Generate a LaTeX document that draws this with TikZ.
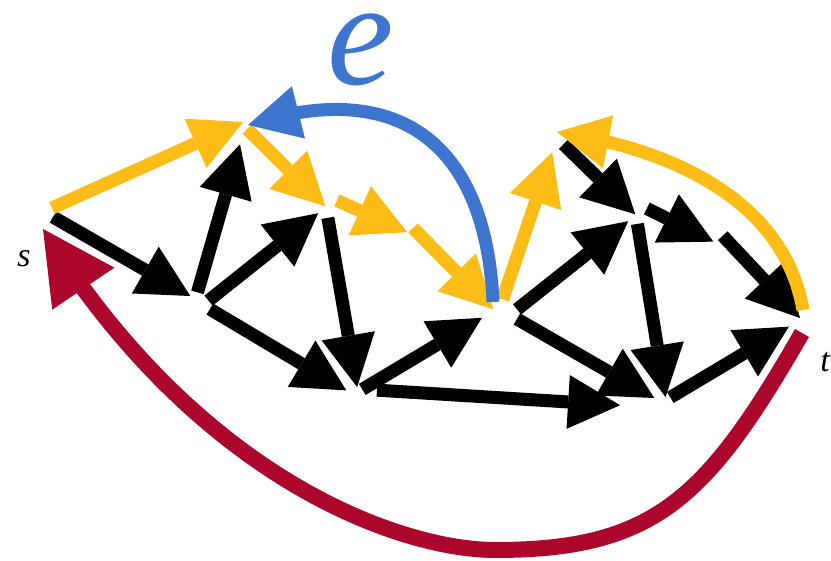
\documentclass[tikz,border=0pt]{standalone}
\usepackage{fontspec}
\setmainfont{Liberation Serif}
\usetikzlibrary{arrows.meta,bending,calc}
\definecolor{cyel}{RGB}{254,188,23}
\definecolor{cblu}{RGB}{62,117,207}
\definecolor{cred}{RGB}{172,6,45}
\tikzset{
  edgebase/.style={line width=13pt, -{Triangle[length=52pt,width=54pt,line width=0pt]}},
  blk/.style={edgebase, draw=black},
  ylw/.style={edgebase, draw=cyel},
  blu/.style={edgebase, draw=cblu},
  rd/.style={line width=16pt, draw=cred, -{Triangle[length=72pt,width=75pt,line width=0pt]}},
  lbl/.style={inner sep=0pt, font=\itshape\fontsize{34}{34}\selectfont},
}
\begin{document}
\begin{tikzpicture}[x=1pt,y=-1pt]
\useasboundingbox (0,0) rectangle (831,561);
% vertices
\coordinate (s) at (50,213);
\coordinate (A) at (245,127);
\coordinate (B) at (199,301);
\coordinate (C) at (326,207);
\coordinate (X) at (411,230);
\coordinate (D) at (358,392);
\coordinate (E) at (500,307);
\coordinate (F) at (557,138);
\coordinate (G) at (636,215);
\coordinate (Y) at (719,239);
\coordinate (I) at (666,400);
\coordinate (t) at (800,320);
\coordinate (rbot) at (495,550);
% labels
\node[lbl] (slab) at (24,259) {s};
\node[lbl] (tlab) at (825,362) {t};
\node[inner sep=0pt, text=cblu, font=\itshape\fontsize{150}{150}\selectfont] (elab) at (361,50) {e};
% black edges
\draw[blk, shorten >=10pt] ([shift={(3,4)}]s) -- (B);
\draw[blk, shorten <=9pt, shorten >=18pt] ([shift={(-4,0)}]B) -- (A);
\draw[blk, shorten <=7pt, shorten >=10pt] ([shift={(4,4)}]B) -- (C);
\draw[blk, shorten <=8pt, shorten >=9pt] ([shift={(4,4)}]B) -- ([shift={(-4,3)}]D);
\draw[blk, shorten <=11pt, shorten >=5pt] (C) -- (D);
\draw[blk, shorten <=5pt, shorten >=21pt] (D) -- (E);
\draw[blk, shorten <=19pt, shorten >=46pt] ([shift={(0,-3)}]D) -- ([shift={(0,8)}]I);
\draw[blk, shorten <=9pt, shorten >=10pt] ([shift={(10,8)}]E) -- (G);
\draw[blk, shorten <=8pt, shorten >=10pt] ([shift={(10,8)}]E) -- ([shift={(-3,3)}]I);
\draw[blk, shorten <=9pt, shorten >=1pt] (F) -- (G);
\draw[blk, shorten <=1pt, shorten >=3pt] ([shift={(10,-7)}]G) -- ([shift={(-3,4)}]Y);
\draw[blk, shorten <=1pt] ([shift={(3,-4)}]Y) -- ([shift={(0,-2)}]t);
\draw[blk, shorten <=9pt, shorten >=3pt] (G) -- (I);
\draw[blk, shorten <=5pt, shorten >=13pt] (I) -- (t);
% yellow edges
\draw[ylw] ([shift={(2,-5)}]s) -- ([shift={(-2,-5)}]A);
\draw[ylw, shorten <=3pt, shorten >=1pt] (A) -- (C);
\draw[ylw, shorten <=1pt, shorten >=2pt] ([shift={(10,-7)}]C) -- ([shift={(-2,3)}]X);
\draw[ylw, shorten >=1pt] ([shift={(2,-2)}]X) -- ([shift={(-6,3)}]E);
\draw[ylw, shorten <=8pt, shorten >=15pt] (E) -- (F);
\draw[ylw] ([shift={(3,-10)}]t) .. controls (785,205) and (680,150) .. ([shift={(0,-6)}]F);
% blue edge
\draw[blu] ([shift={(-7,-5)}]E) .. controls (486,145) and (400,76) .. ([shift={(3,-2)}]A);
% red edge
\draw[rd] ([shift={(2,13)}]t) .. controls (707,498) and (655,550) .. (rbot)
  .. controls (405,550) and (202,484) .. ([shift={(-7,16)}]s);
\end{tikzpicture}
\end{document}
